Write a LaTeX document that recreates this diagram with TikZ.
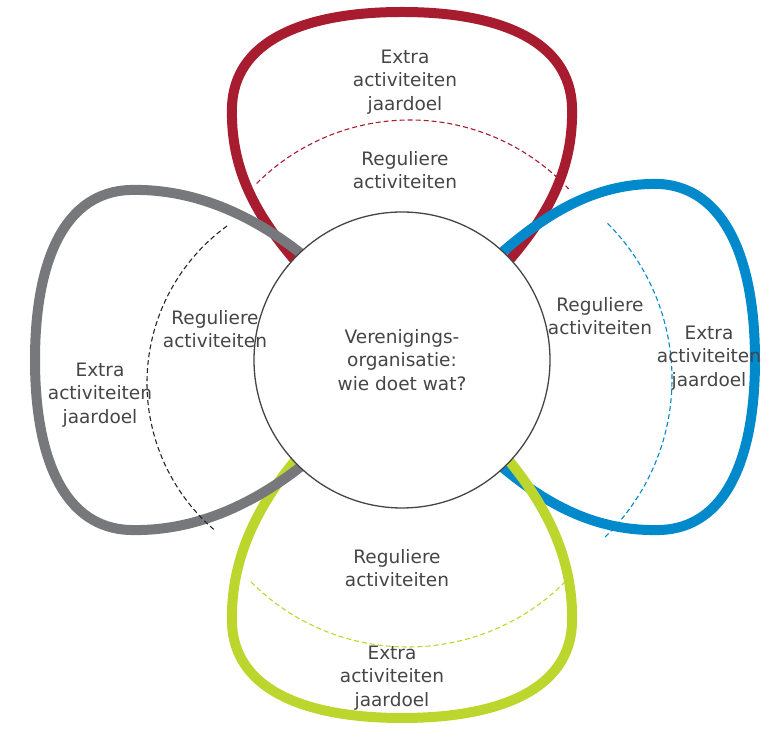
\documentclass[tikz,border=0pt]{standalone}
\usepackage{fontspec}
\setmainfont{DejaVu Sans}
\usetikzlibrary{positioning}

\definecolor{petalred}{HTML}{A71C2E}
\definecolor{petalblue}{HTML}{008ACC}
\definecolor{petalgreen}{HTML}{BDD62E}
\definecolor{petalgray}{HTML}{77787B}
\definecolor{txtgray}{HTML}{454545}

\begin{document}
\begin{tikzpicture}[x=1pt, y=1pt,
    petal/.style={line width=10pt, line join=round},
    regarc/.style={line width=1.1pt, dash pattern=on 5pt off 3pt},
    txt/.style={align=center, text=txtgray, font=\fontsize{18.5}{23.3}\selectfont, inner sep=0pt}]
    \useasboundingbox (0,0) rectangle (766,730);
    \coordinate (c) at (402,370);

    % Petals
    \draw [petal, petalred, shift={(c)}, rotate=90] (60,-70) .. controls (125,-135) and (178,-172) .. (253,-170) .. controls (318,-168) and (348,-100) .. (348,0) .. controls (348,100) and (318,168) .. (253,170) .. controls (178,172) and (125,135) .. (60,70);
    \draw [petal, petalblue, shift={(c)}, rotate=0] (60,-70) .. controls (125,-135) and (183,-172) .. (258,-170) .. controls (323,-168) and (353,-100) .. (353,0) .. controls (353,100) and (323,172) .. (258,176) .. controls (183,178) and (125,135) .. (60,70);
    \draw [petal, petalgreen, shift={(c)}, rotate=-90] (60,-70) .. controls (125,-135) and (188,-172) .. (263,-170) .. controls (328,-168) and (358,-100) .. (358,0) .. controls (358,100) and (328,168) .. (263,170) .. controls (188,172) and (125,135) .. (60,70);
    \draw [petal, petalgray, shift={(c)}, rotate=180] (60,-70) .. controls (125,-135) and (197,-172) .. (272,-170) .. controls (337,-168) and (367,-100) .. (367,0) .. controls (367,100) and (337,168) .. (272,170) .. controls (197,172) and (125,135) .. (60,70);

    % Centre
    \node (org) [circle, draw=txtgray, line width=1.3pt, fill=white, minimum size=296pt, inner sep=0pt, txt] at (c) {Verenigings-\\organisatie:\\wie doet wat?};

    % Dashed borders
    \draw [regarc, petalred] ([shift={(135:217)}]410,393) arc[start angle=135, end angle=43, radius=217];
    \draw [regarc, petalblue] ([shift={(45:220)}]452,351) arc[start angle=45, end angle=-46, radius=220];
    \draw [regarc, petalgreen] ([shift={(225:222)}]408,305) arc[start angle=225, end angle=315, radius=222];
    \draw [regarc, black!85] ([shift={(126:194)}]341,347) arc[start angle=126, end angle=229, radius=194];

    % Labels
    \node (redextra) [txt] at (405,648) {Extra\\activiteiten\\jaardoel};
    \node (redreg) [txt] at (405,560) {Reguliere\\activiteiten};
    \node (bluereg) [txt] at (600,414) {Reguliere\\activiteiten};
    \node (blueextra) [txt] at (709,372) {Extra\\activiteiten\\jaardoel};
    \node (greenreg) [txt] at (397,162) {Reguliere\\activiteiten};
    \node (greenextra) [txt] at (392,52) {Extra\\activiteiten\\jaardoel};
    \node (grayreg) [txt] at (215,401) {Reguliere\\activiteiten};
    \node (grayextra) [txt] at (100,335) {Extra\\activiteiten\\jaardoel};
\end{tikzpicture}
\end{document}
